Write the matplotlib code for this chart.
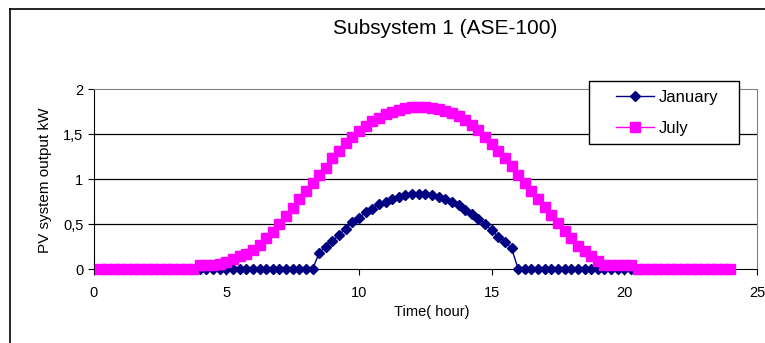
import matplotlib.pyplot as plt
from matplotlib.ticker import FuncFormatter
from matplotlib.patches import Rectangle
import numpy as np

plt.rcParams['font.family'] = ['Liberation Sans', 'DejaVu Sans']

# time of day, 15 minute steps from 0:15 to 24:00
hours = np.arange(1, 97) * 0.25

january = [
    0, 0, 0, 0, 0, 0, 0, 0, 0, 0, 0, 0, 0, 0, 0, 0,
    0, 0, 0, 0, 0, 0, 0, 0, 0, 0, 0, 0, 0, 0, 0, 0, 0,
    0.18, 0.25, 0.31, 0.38, 0.45, 0.52, 0.57, 0.63, 0.67, 0.72,
    0.75, 0.78, 0.80, 0.82, 0.83, 0.835, 0.83, 0.82, 0.80, 0.78,
    0.745, 0.71, 0.66, 0.61, 0.56, 0.50, 0.43, 0.36, 0.30, 0.23,
    0, 0, 0, 0, 0, 0, 0, 0, 0, 0, 0, 0, 0, 0, 0, 0,
    0, 0, 0, 0, 0, 0, 0, 0, 0, 0, 0, 0, 0, 0, 0, 0, 0,
]

july = [
    0, 0, 0, 0, 0, 0, 0, 0, 0, 0, 0, 0, 0, 0, 0,
    0.05, 0.05, 0.05, 0.06,
    0.08, 0.11, 0.14, 0.17, 0.21, 0.27, 0.34, 0.41,
    0.50, 0.59, 0.68, 0.78, 0.87, 0.96, 1.04, 1.12,
    1.23, 1.31, 1.40, 1.47, 1.53, 1.59, 1.64, 1.68,
    1.72, 1.75, 1.77, 1.79, 1.80, 1.80, 1.80, 1.79,
    1.78, 1.76, 1.73, 1.70, 1.66, 1.60, 1.54, 1.47,
    1.39, 1.31, 1.23, 1.14, 1.05, 0.96, 0.87, 0.78,
    0.69, 0.60, 0.51, 0.42, 0.34, 0.26, 0.20, 0.15,
    0.09, 0.05, 0.05, 0.05, 0.05, 0.05,
    0, 0, 0, 0, 0, 0, 0, 0, 0, 0, 0, 0, 0, 0, 0,
]

W, H = 765, 343
fig = plt.figure(figsize=(W / 100, H / 100), dpi=100)
ax = fig.add_axes([0.1225, 0.2157, 0.867, 0.5248])

# outer chart border (only left and top edges visible)
fig.add_artist(plt.Line2D([0.013, 0.013], [0, 0.974], color='black', lw=1.2))
fig.add_artist(plt.Line2D([0.013, 1], [0.974, 0.974], color='black', lw=1.2))

for y in [0.5, 1, 1.5]:
    ax.axhline(y, color='black', lw=0.9, zorder=1)

ax.plot(hours, january, color='#000080', lw=1, marker='D', markersize=5,
        label='January', zorder=3, clip_on=False)
ax.plot(hours, july, color='#FF00FF', lw=1, marker='s', markersize=7,
        label='July', zorder=4, clip_on=False)

ax.set_xlim(0, 25)
ax.set_ylim(0, 2)
ax.set_xticks([0, 5, 10, 15, 20, 25])
ax.set_yticks([0, 0.5, 1, 1.5, 2])
ax.yaxis.set_major_formatter(FuncFormatter(lambda v, p: f'{v:g}'.replace('.', ',')))
ax.tick_params(direction='out', length=4.5, width=0.8, labelsize=10.5, colors='black')
ax.tick_params(axis='x', pad=8)
ax.tick_params(axis='y', pad=3)

ax.spines['left'].set_color('black')
ax.spines['bottom'].set_color('black')
ax.spines['top'].set_color('#808080')
ax.spines['right'].set_color('#808080')

fig.text(432 / W, 1 - 312 / H, 'Time( hour)', ha='center', va='center', fontsize=10.5)
fig.text(45 / W, 1 - 180 / H, 'PV system output kW', ha='center', va='center',
         rotation=90, fontsize=11)

fig.text(445 / W, 1 - 29 / H, 'Subsystem 1 (ASE-100)', ha='center', va='center', fontsize=15)

# legend box drawn separately so the inner padding can match
fig.add_artist(Rectangle((589 / W, 1 - 144 / H), 150 / W, 63 / H, transform=fig.transFigure,
                         facecolor='white', edgecolor='black', lw=1, zorder=5))
leg = fig.legend(loc='upper left', bbox_to_anchor=(616 / W, 1 - 90 / H),
                 fontsize=12, frameon=False, handlelength=2.3, handletextpad=0.25,
                 borderaxespad=0, borderpad=0, labelspacing=0.95)
leg.set_zorder(6)

fig.savefig('out.png', dpi=100)
